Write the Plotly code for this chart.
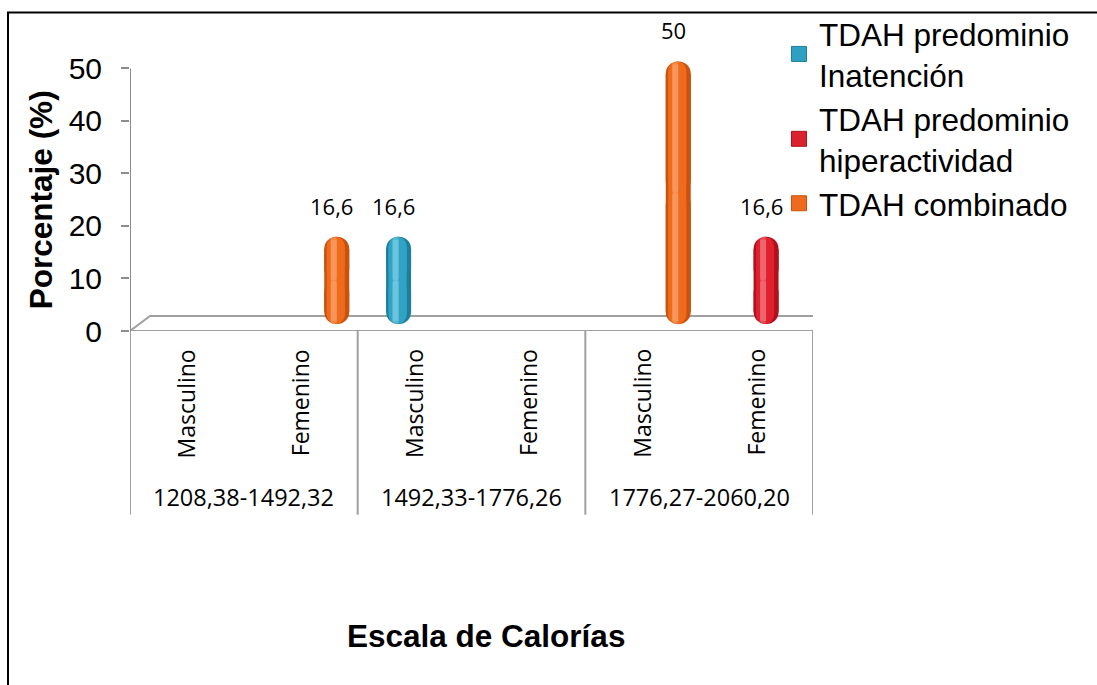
import plotly.graph_objects as go

# ---------------- data ----------------
categories = ["Masculino", "Femenino", "Masculino", "Femenino", "Masculino", "Femenino"]
groups = ["1208,38-1492,32", "1492,33-1776,26", "1776,27-2060,20"]
series_names = ["TDAH predominio<br>Inatención", "TDAH predominio<br>hiperactividad", "TDAH combinado"]
inatencion = [0, 0, 16.6, 0, 0, 0]
hiperactividad = [0, 0, 0, 0, 0, 16.6]
combinado = [0, 16.6, 0, 0, 50, 0]
y_ticks = [0, 10, 20, 30, 40, 50]
x_title = "Escala de Calorías"
y_title = "Porcentaje (%)"

# ---------------- styling / geometry ----------------
W, H = 1097, 685
PL, PR, PB = 130, 813, 331          # plot area x-extent and y of zero (px)
Y50 = 68                            # px of the top tick
ncat = len(categories)
px_x = (PR - PL) / ncat
px_y = (PB - Y50) / (y_ticks[-1] - y_ticks[0])
y_top = 53.5                        # extra headroom so the tallest bar is not clipped
PT = PB - y_top * px_y

series = [inatencion, hiperactividad, combinado]
palettes = [
    ("#1E7E9E", "#31A4C6", "#9ADCEE"),   # blue
    ("#B0121D", "#E0202C", "#F59AA0"),   # red
    ("#C8520E", "#F06A1C", "#FBB88A"),   # orange
]
legend_cols = ["#2FA0C2", "#D8222E", "#EE6A1E"]
slot_px = 26
depth_dx = 10 / px_x
depth_dy = 7 / px_y
layers = [(25, 0, 0, 1.0), (18, -1, 1, 1.0), (6, -3, 2, 0.35)]  # width px, x shift px, colour idx, opacity

fig = go.Figure()

for s, vals in enumerate(series):
    center_shift = (s - 1) * slot_px / px_x + depth_dx
    xs = [i for i, v in enumerate(vals) if v > 0]
    tops = [vals[i] for i in xs]
    for (wpx, xs_px, ci, op) in layers:
        w = wpx / px_x
        r = (wpx / 2) / px_y
        cshift = center_shift + xs_px / px_x
        mids = [depth_dy + v / 2 for v in tops]
        col = palettes[s][ci]
        common = dict(x=xs, width=w, offset=cshift - w / 2, opacity=op,
                      showlegend=False, hoverinfo="skip")
        # upper half rounded at the top, lower half rounded at the bottom
        for sign in (1, -1):
            fig.add_trace(go.Bar(y=[sign * v / 2 for v in tops], base=mids,
                                 marker=dict(color=col, cornerradius="50%", line=dict(width=0)),
                                 **common))
        # straight middle section
        fig.add_trace(go.Bar(y=[v - 2 * r for v in tops], base=depth_dy + r,
                             marker=dict(color=col, cornerradius=0, line=dict(width=0)),
                             **common))
    # legend entry
    fig.add_trace(go.Scatter(x=[None], y=[None], name=series_names[s], mode="markers",
                             marker=dict(color=legend_cols[s], symbol="square", size=15,
                                         line=dict(width=1, color=palettes[s][0])),
                             showlegend=True))
    # data labels
    for i in xs:
        fig.add_annotation(
            x=i + center_shift, y=depth_dy + vals[i], xref="x", yref="y",
            text=f"{vals[i]:g}".replace(".", ","), showarrow=False,
            yanchor="bottom", xanchor="center", yshift=14, xshift=-5,
            font=dict(family="Open Sans", size=22, color="black"),
        )

# floor (3D base)
fdx = 20 / px_x
fdy = 15 / px_y
x0, x1 = -0.5, ncat - 0.5
fig.add_shape(type="path", xref="x", yref="y",
              path=f"M {x0},0 L {x1},0 L {x1 + fdx},{fdy} L {x0 + fdx},{fdy} Z",
              line=dict(color="#A0A0A0", width=2), fillcolor="rgba(0,0,0,0)", layer="below")
# value axis line (0..50)
fig.add_shape(type="line", xref="x", yref="y", x0=x0, x1=x0, y0=y_ticks[0], y1=y_ticks[-1],
              line=dict(color="#8C8C8C", width=2))

ph = PB - PT
# category dividers
div_bottom = (PB - 515) / ph
for k in range(0, ncat + 1, 2):
    fig.add_shape(type="line", xref="x", yref="paper", x0=k - 0.5, x1=k - 0.5,
                  y0=0, y1=div_bottom, line=dict(color="#A0A0A0", width=2))

# sub category labels (rotated)
for i, c in enumerate(categories):
    fig.add_annotation(x=i, y=(PB - 347) / ph, xref="x", yref="paper",
                       text=c, textangle=-90, showarrow=False,
                       xanchor="center", yanchor="top",
                       font=dict(family="Open Sans", size=23, color="black"))
# group labels
for g, name in enumerate(groups):
    fig.add_annotation(x=2 * g + 0.5, y=(PB - 497) / ph, xref="x", yref="paper",
                       text=name, showarrow=False, xanchor="center", yanchor="middle",
                       font=dict(family="Open Sans", size=23.5, color="black"))

# axis titles
fig.add_annotation(x=(486 - PL) / (PR - PL), y=(PB - 636) / ph, xref="paper", yref="paper",
                   text=f"<b>{x_title}</b>", showarrow=False, xanchor="center", yanchor="middle",
                   font=dict(family="Liberation Sans, Arial", size=31.5, color="black"))
fig.add_annotation(x=(41 - PL) / (PR - PL), y=(PB - 200) / ph, xref="paper", yref="paper",
                   text=f"<b>{y_title}</b>", textangle=-90, showarrow=False,
                   xanchor="center", yanchor="middle",
                   font=dict(family="Liberation Sans, Arial", size=31.5, color="black"))

# outer frame (left and top edges)
fx0 = (8 - PL) / (PR - PL)
fy1 = (PB - 12) / ph
fig.add_shape(type="path", xref="paper", yref="paper",
              path=f"M {fx0},{(PB - H - 5) / ph} L {fx0},{fy1} L {(W + 5 - PL) / (PR - PL)},{fy1}",
              line=dict(color="black", width=2))

fig.update_layout(
    width=W, height=H,
    margin=dict(l=PL, r=W - PR, t=PT, b=H - PB, autoexpand=False),
    paper_bgcolor="white", plot_bgcolor="white",
    barmode="overlay",
    showlegend=True,
    legend=dict(x=(779 - PL) / (PR - PL), y=(PB - 6) / ph,
                xanchor="left", yanchor="top", bgcolor="rgba(0,0,0,0)",
                font=dict(family="Liberation Sans, Arial", size=31.5, color="black"),
                traceorder="normal", tracegroupgap=0, itemsizing="trace"),
    xaxis=dict(range=[x0, x1], showticklabels=False, showgrid=False, zeroline=False,
               showline=False, ticks=""),
    yaxis=dict(range=[y_ticks[0], y_top], tickvals=y_ticks, showgrid=False, zeroline=False,
               showline=False,
               ticks="outside", ticklen=8, tickcolor="#8C8C8C", tickwidth=2,
               ticklabelstandoff=13,
               tickfont=dict(family="Liberation Sans, Arial", size=30, color="black")),
)

fig.write_html("out.html", config={"displayModeBar": False},
               post_script="document.body.style.margin='0px';")
